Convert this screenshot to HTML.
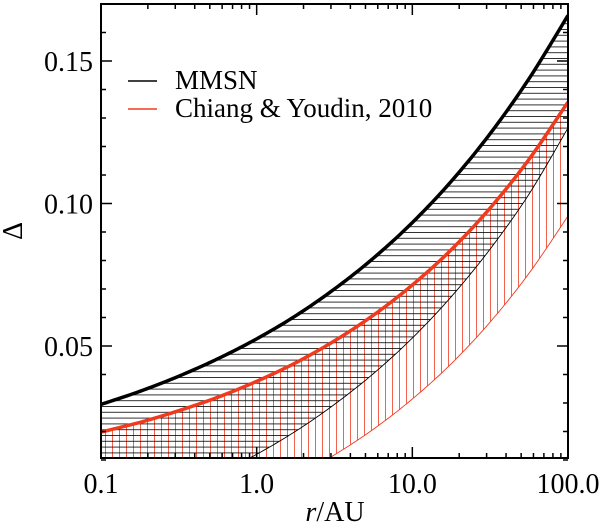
<!DOCTYPE html>
<html><head><meta charset="utf-8"><style>
body{margin:0;background:#fff}
svg text{font-family:"Liberation Serif",serif;fill:#000}
</style></head><body>
<svg id="chart" width="600" height="526" viewBox="0 0 600 526" xmlns="http://www.w3.org/2000/svg">
<defs>
<clipPath id="plotclip"><rect x="101" y="4" width="467" height="454"/></clipPath>
<pattern id="hpat" patternUnits="userSpaceOnUse" width="10" height="5.8"><line x1="0" y1="0.5" x2="10" y2="0.5" stroke="#000" stroke-width="0.8"/></pattern>
<pattern id="vpat" patternUnits="userSpaceOnUse" width="7" height="10"><line x1="0.5" y1="0" x2="0.5" y2="10" stroke="#f03a1e" stroke-width="0.8"/></pattern>
</defs>
<g id="plot" clip-path="url(#plotclip)"></g>
<g id="axes"></g>
<g>
<line x1="128" y1="81" x2="157" y2="81" stroke="#000" stroke-width="1.5"/>
<text x="175" y="89" font-size="27">MMSN</text>
<line x1="128" y1="109" x2="157" y2="109" stroke="#f03a1e" stroke-width="1.5"/>
<text x="175" y="117" font-size="27">Chiang &amp; Youdin, 2010</text>
</g>
<text x="0" y="0" font-size="28" text-anchor="middle" transform="translate(22,231) rotate(-90)">Δ</text>
<text x="335" y="521" font-size="28" text-anchor="middle"><tspan font-style="italic">r</tspan>/AU</text>
</svg>
<script>
const radii=[0.1,0.178,0.316,0.562,1,1.78,3.16,5.62,10,17.8,31.6,56.2,100];
const mmsnUpper=[0.0295,0.0341,0.0394,0.0455,0.0525,0.0606,0.0700,0.0808,0.0933,0.1078,0.1245,0.1438,0.166];
const mmsnLower=[-0.011,-0.0064,-0.0011,0.0050,0.0120,0.0201,0.0295,0.0403,0.0528,0.0673,0.0840,0.1033,0.1265];
const cyUpper=[0.0198,0.0232,0.0273,0.0320,0.0376,0.0441,0.0518,0.0608,0.0714,0.0838,0.0984,0.1155,0.1356];
const cyLower=[-0.0202,-0.0168,-0.0127,-0.008,-0.0024,0.0041,0.0118,0.0208,0.0314,0.0438,0.0584,0.0755,0.0956];
const xTickLabels=["0.1","1.0","10.0","100.0"];
const xTickValues=[0.1,1,10,100];
const yTickLabels=["0.05","0.10","0.15"];
const yTickValues=[0.05,0.10,0.15];

const NS="http://www.w3.org/2000/svg";
const X0=101,X1=568,Y0=458,Y1=4,XMIN=0.1,XMAX=100,YMIN=0.0107,YMAX=0.1700;
function xs(v){return X0+(Math.log10(v)-Math.log10(XMIN))/(Math.log10(XMAX)-Math.log10(XMIN))*(X1-X0);}
function ys(v){return Y0-(v-YMIN)/(YMAX-YMIN)*(Y0-Y1);}
function mk(tag,attrs,parent){const e=document.createElementNS(NS,tag);for(const k in attrs)e.setAttribute(k,attrs[k]);parent.appendChild(e);return e;}
function pts(arr){
  const out=[];
  for(let i=0;i<radii.length-1;i++){
    const p0=i>0?i-1:i,p3=i+2<radii.length?i+2:i+1;
    for(let t=0;t<1;t+=0.1){
      const lx=(a)=>Math.log10(radii[a]);
      const cr=(a,b,c,d)=>0.5*((2*b)+(-a+c)*t+(2*a-5*b+4*c-d)*t*t+(-a+3*b-3*c+d)*t*t*t);
      out.push([xs(Math.pow(10,cr(lx(p0),lx(i),lx(i+1),lx(p3)))),ys(cr(arr[p0],arr[i],arr[i+1],arr[p3]))]);
    }
  }
  out.push([xs(radii[radii.length-1]),ys(arr[arr.length-1])]);
  return out;
}
function pathD(p){return p.map((q,i)=>(i?"L":"M")+q[0].toFixed(2)+","+q[1].toFixed(2)).join("");}
function bandD(u,l){const a=pts(u),b=pts(l).reverse();return pathD(a.concat(b))+"Z";}
const plot=document.getElementById("plot");
let e;
e=mk("path",{d:bandD(cyUpper,cyLower),fill:"url(#vpat)"},plot);


e=mk("path",{d:bandD(mmsnUpper,mmsnLower),fill:"url(#hpat)"},plot);


e=mk("path",{d:pathD(pts(cyLower)),fill:"none",stroke:"#f03a1e","stroke-width":0.9},plot);


e=mk("path",{d:pathD(pts(mmsnLower)),fill:"none",stroke:"#000","stroke-width":0.9},plot);


e=mk("path",{d:pathD(pts(cyUpper)),fill:"none",stroke:"#f03a1e","stroke-width":3.5},plot);


e=mk("path",{d:pathD(pts(mmsnUpper)),fill:"none",stroke:"#000","stroke-width":3.5},plot);



const ax=document.getElementById("axes");
e=mk("rect",{x:X0,y:Y1,width:X1-X0,height:Y0-Y1,fill:"none",stroke:"#000","stroke-width":2},ax);


for(let d=-1;d<2;d++){for(let m=1;m<10;m++){const v=m*Math.pow(10,d);const x=xs(v);const len=m==1?11:5;
  mk("line",{x1:x,y1:Y0,x2:x,y2:Y0-len,stroke:"#000","stroke-width":1.5},ax);
  mk("line",{x1:x,y1:Y1,x2:x,y2:Y1+len,stroke:"#000","stroke-width":1.5},ax);}}
for(let k=1;k<=16;k++){const v=k*0.01;const y=ys(v);const maj=(k%5==0);const len=maj?11:5;
  mk("line",{x1:X0,y1:y,x2:X0+len,y2:y,stroke:"#000","stroke-width":1.5},ax);
  mk("line",{x1:X1,y1:y,x2:X1-len,y2:y,stroke:"#000","stroke-width":1.5},ax);}
xTickValues.forEach((v,i)=>{const t=mk("text",{x:xs(v),y:493,"font-size":28,"text-anchor":"middle"},ax);t.textContent=xTickLabels[i];

});
yTickValues.forEach((v,i)=>{const t=mk("text",{x:93,y:ys(v)+10,"font-size":28,"text-anchor":"end"},ax);t.textContent=yTickLabels[i];

});
</script>
</body></html>
